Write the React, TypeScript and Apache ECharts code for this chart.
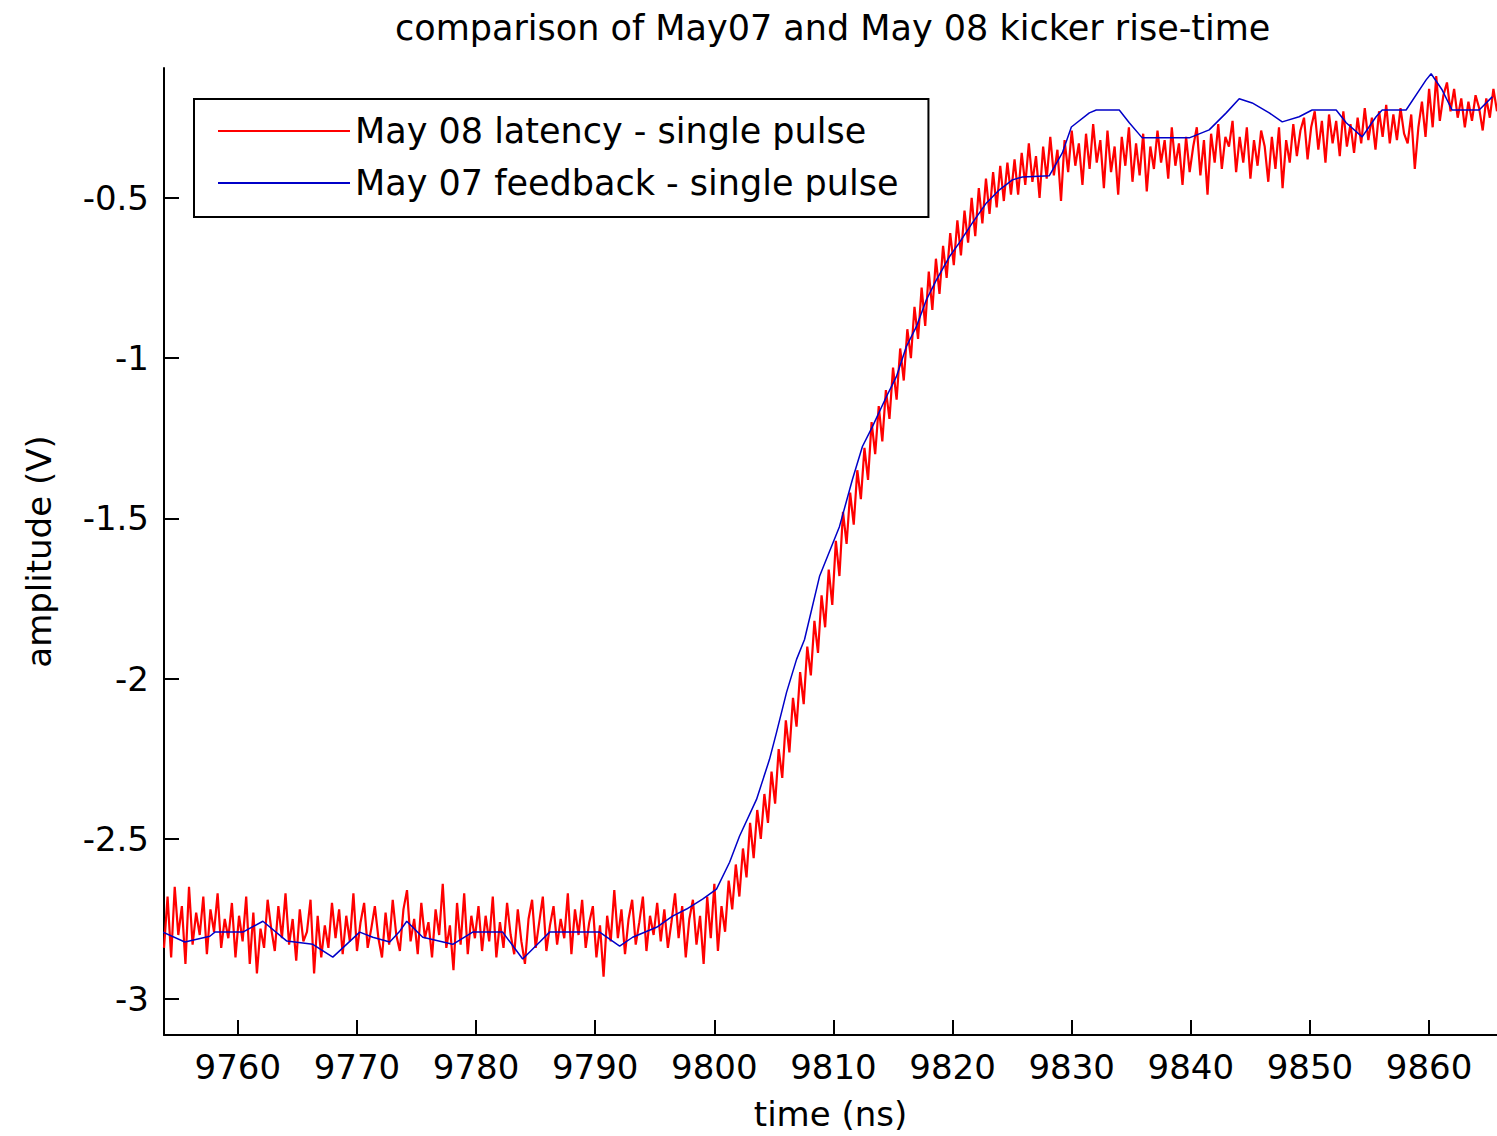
import React, { useEffect, useRef } from "react";
import * as echarts from "echarts";

const titleText = "comparison of May07 and May 08 kicker rise-time";
const xName = "time (ns)";
const yName = "amplitude (V)";
const redName = "May 08 latency - single pulse";
const blueName = "May 07 feedback - single pulse";

const xTicks = [9760, 9770, 9780, 9790, 9800, 9810, 9820, 9830, 9840, 9850, 9860];
const yTicks = [-3, -2.5, -2, -1.5, -1, -0.5];

// red trace: sampled every 0.3 ns from 9753.8 ns
const redStart = 9753.8;
const redStep = 0.3;
const redBaseline = [
  -2.84, -2.68, -2.87, -2.65, -2.80, -2.71, -2.89, -2.65, -2.83, -2.73,
  -2.80, -2.68, -2.86, -2.72, -2.79, -2.67, -2.84, -2.75, -2.81, -2.70,
  -2.87, -2.74, -2.82, -2.68, -2.89, -2.73, -2.92, -2.78, -2.84, -2.69,
  -2.78, -2.85, -2.71, -2.81, -2.67, -2.83, -2.75, -2.88, -2.72, -2.82,
  -2.79, -2.69, -2.92, -2.74, -2.87, -2.77, -2.84, -2.70, -2.81, -2.72,
  -2.86, -2.74, -2.82, -2.67, -2.85, -2.76, -2.70, -2.84, -2.78, -2.71,
  -2.81, -2.87, -2.73, -2.83, -2.69, -2.80, -2.85, -2.72, -2.66, -2.82,
  -2.75, -2.86, -2.70, -2.81, -2.76, -2.87, -2.72, -2.80, -2.64, -2.84,
  -2.77, -2.91, -2.70, -2.83, -2.67, -2.86, -2.74, -2.81, -2.71, -2.85,
  -2.74, -2.82, -2.68, -2.87, -2.76, -2.84, -2.70, -2.80, -2.86, -2.72,
  -2.82, -2.89, -2.75, -2.69, -2.84, -2.76, -2.68, -2.85, -2.77, -2.71,
  -2.83, -2.75, -2.81, -2.67, -2.86, -2.72, -2.80, -2.69, -2.84, -2.76,
  -2.71, -2.87, -2.77, -2.93, -2.74, -2.82, -2.66, -2.81, -2.72, -2.86,
  -2.75, -2.69, -2.83, -2.76, -2.68, -2.85, -2.74, -2.80, -2.70, -2.82,
  -2.72, -2.84, -2.76, -2.67, -2.81, -2.71, -2.87, -2.75, -2.69, -2.83,
  -2.74, -2.89, -2.68, -2.81, -2.64, -2.85, -2.71, -2.79, -2.63, -2.72,
];
const redRise = [
  -2.58, -2.68, -2.53, -2.62, -2.45, -2.56, -2.41, -2.50, -2.36, -2.45,
  -2.29, -2.39, -2.22, -2.31, -2.13, -2.23, -2.06, -2.15, -1.98, -2.08,
  -1.90, -1.99, -1.82, -1.92, -1.74, -1.84, -1.66, -1.77, -1.57, -1.68,
  -1.48, -1.58, -1.42, -1.52, -1.35, -1.44, -1.28, -1.38, -1.20, -1.30,
  -1.15, -1.26, -1.10, -1.19, -1.03, -1.13, -0.97, -1.07, -0.91, -1.00,
  -0.84, -0.94, -0.78, -0.90, -0.73, -0.85, -0.69, -0.80, -0.65, -0.75,
  -0.61, -0.71, -0.57, -0.68, -0.54, -0.64, -0.50, -0.62, -0.47, -0.58,
  -0.44, -0.55, -0.42, -0.53, -0.40, -0.51, -0.39, -0.49,
];
const redPlateau = [
  -0.38, -0.49, -0.36, -0.46, -0.33, -0.45, -0.37, -0.50, -0.34, -0.44,
  -0.31, -0.43, -0.35, -0.51, -0.32, -0.42, -0.29, -0.40, -0.33, -0.46,
  -0.30, -0.41, -0.27, -0.39, -0.32, -0.47, -0.29, -0.42, -0.34, -0.49,
  -0.31, -0.40, -0.28, -0.45, -0.33, -0.43, -0.30, -0.48, -0.34, -0.41,
  -0.29, -0.39, -0.32, -0.44, -0.28, -0.40, -0.33, -0.46, -0.31, -0.42,
  -0.34, -0.28, -0.43, -0.32, -0.49, -0.30, -0.39, -0.27, -0.41, -0.31,
  -0.34, -0.26, -0.42, -0.31, -0.39, -0.28, -0.44, -0.32, -0.40, -0.29,
  -0.34, -0.45, -0.31, -0.41, -0.28, -0.47, -0.32, -0.39, -0.27, -0.37,
  -0.29, -0.25, -0.38, -0.28, -0.23, -0.35, -0.26, -0.39, -0.24, -0.33,
  -0.26, -0.37, -0.23, -0.34, -0.27, -0.36, -0.25, -0.33, -0.22, -0.32,
  -0.25, -0.35, -0.23, -0.31, -0.21, -0.33, -0.24, -0.32, -0.22, -0.30,
  -0.33, -0.24, -0.41, -0.28, -0.20, -0.31, -0.16, -0.28, -0.12, -0.26,
  -0.18, -0.14, -0.23, -0.16, -0.25, -0.19, -0.28, -0.20, -0.26, -0.18,
  -0.22, -0.29, -0.19, -0.25, -0.16, -0.23,
];

// blue trace vertices
const blueTimes = [
  9753.71, 9755.55, 9757.65, 9758.07, 9760.42, 9762.10, 9764.11, 9766.29, 9767.97, 9770.23,
  9771.33, 9772.75, 9773.59, 9774.18, 9775.52, 9778.04, 9779.71, 9782.23, 9783.91, 9785.34,
  9786.17, 9790.37, 9792.05, 9793.14, 9795.15, 9796.49, 9797.67, 9799.01, 9800.18, 9801.28,
  9802.11, 9803.54, 9804.63, 9805.22, 9806.06, 9806.90, 9807.57, 9808.83, 9810.50, 9811.59,
  9812.43, 9813.27, 9814.45, 9815.28, 9816.12, 9816.96, 9817.80, 9818.64, 9819.73, 9820.57,
  9821.66, 9822.84, 9823.93, 9825.02, 9825.86, 9828.12, 9829.21, 9829.97, 9831.48, 9832.06,
  9833.99, 9834.83, 9835.92, 9839.87, 9841.54, 9842.97, 9844.06, 9845.15, 9846.58, 9847.67,
  9849.09, 9850.18, 9852.20, 9853.04, 9854.38, 9855.55, 9856.06, 9858.07, 9859.75, 9860.17,
  9861.09, 9861.93, 9864.20, 9865.30,
];
const blueValues = [
  -2.791, -2.822, -2.804, -2.791, -2.791, -2.757, -2.819, -2.829, -2.869, -2.791,
  -2.807, -2.822, -2.788, -2.757, -2.807, -2.829, -2.791, -2.791, -2.875, -2.822,
  -2.791, -2.791, -2.835, -2.807, -2.776, -2.741, -2.719, -2.688, -2.657, -2.573,
  -2.492, -2.377, -2.252, -2.168, -2.043, -1.940, -1.878, -1.681, -1.526, -1.379,
  -1.276, -1.214, -1.120, -1.058, -0.964, -0.902, -0.818, -0.756, -0.684, -0.640,
  -0.578, -0.516, -0.475, -0.444, -0.435, -0.431, -0.360, -0.279, -0.235, -0.226,
  -0.226, -0.266, -0.313, -0.313, -0.288, -0.235, -0.191, -0.204, -0.235, -0.263,
  -0.247, -0.226, -0.226, -0.266, -0.310, -0.247, -0.226, -0.226, -0.132, -0.113,
  -0.163, -0.226, -0.226, -0.185,
];

const FONT = "DejaVu Sans";

export default function App() {
  const ref = useRef<HTMLDivElement>(null);
  useEffect(() => {
    document.body.style.margin = "0";
    const chart = echarts.init(ref.current as HTMLDivElement, null, { renderer: "svg" });
    const redValues = [...redBaseline, ...redRise, ...redPlateau];
    const redData = redValues.map((v, i) => [redStart + i * redStep, v]);
    const blueData = blueTimes.map((t, i) => [t, blueValues[i]]);
    chart.setOption({
      animation: false,
      backgroundColor: "#ffffff",
      title: {
        text: titleText,
        left: 390,
        top: 5,
        textStyle: { fontFamily: FONT, fontSize: 35, fontWeight: "normal", color: "#000" },
      },
      legend: {
        orient: "vertical",
        left: 194,
        top: 99,
        padding: [13, 30, 15, 24],
        itemGap: 14,
        itemWidth: 132,
        itemHeight: 2,
        icon: "rect",
        borderColor: "#000",
        borderWidth: 2,
        backgroundColor: "#fff",
        textStyle: { fontFamily: FONT, fontSize: 35, color: "#000", lineHeight: 38 },
        data: [redName, blueName],
      },
      grid: { left: 164, top: 68, right: 0, bottom: 100 },
      xAxis: {
        type: "value",
        min: 9753.8,
        max: 9865.7,
        name: xName,
        nameLocation: "middle",
        nameGap: 62,
        nameTextStyle: { fontFamily: FONT, fontSize: 34, color: "#000" },
        axisLine: { show: true, lineStyle: { color: "#000", width: 2 } },
        axisTick: { show: true, inside: true, length: 15, customValues: xTicks, lineStyle: { color: "#000", width: 2 } },
        axisLabel: {
          customValues: xTicks,
          margin: 15,
          fontFamily: FONT,
          fontSize: 34,
          color: "#000",
          formatter: (v: number) => String(v),
        },
        splitLine: { show: false },
      },
      yAxis: {
        type: "value",
        min: -3.112,
        max: -0.095,
        name: yName,
        nameLocation: "middle",
        nameGap: 108,
        nameTextStyle: { fontFamily: FONT, fontSize: 34, color: "#000" },
        axisLine: { show: true, lineStyle: { color: "#000", width: 2 } },
        axisTick: { show: true, inside: true, length: 15, customValues: yTicks, lineStyle: { color: "#000", width: 2 } },
        axisLabel: {
          customValues: yTicks,
          margin: 15,
          fontFamily: FONT,
          fontSize: 34,
          color: "#000",
          formatter: (v: number) => String(v),
        },
        splitLine: { show: false },
      },
      series: [
        {
          name: redName,
          type: "line",
          data: redData,
          showSymbol: false,
          symbol: "none",
          color: "#ff0000",
          lineStyle: { color: "#ff0000", width: 2.2 },
          clip: true,
        },
        {
          name: blueName,
          type: "line",
          data: blueData,
          showSymbol: false,
          symbol: "none",
          color: "#0000c8",
          lineStyle: { color: "#0000c8", width: 1.5 },
          clip: true,
        },
      ],
    });
    return () => chart.dispose();
  }, []);
  return <div ref={ref} style={{ width: 1497, height: 1136 }} />;
}
